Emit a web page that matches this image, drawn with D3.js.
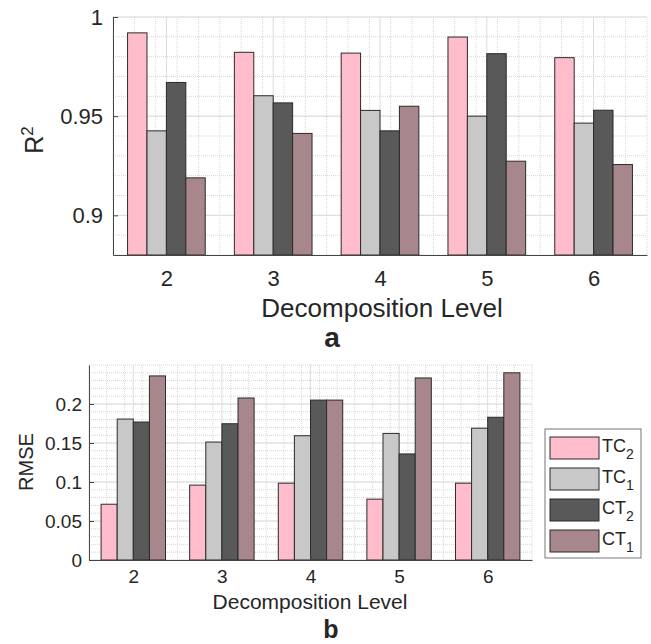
<!DOCTYPE html>
<html lang="en">
<head>
<meta charset="utf-8">
<title>R2 and RMSE by decomposition level</title>
<script src="https://d3js.org/d3.v7.min.js"></script>
<style>
  body { margin: 0; background: #fff; }
  text { font-family: "Liberation Sans", Arial, sans-serif; fill: #262626; }
</style>
</head>
<body>
<script>
// categories and series
var levels = [2, 3, 4, 5, 6];
var seriesNames = [["TC", "2"], ["TC", "1"], ["CT", "2"], ["CT", "1"]];
var colors = ["#ffbdcc", "#c8c8c8", "#595959", "#a8878c"];

// R^2 values (panel a), one array per series
var r2TC2 = [0.9920, 0.9822, 0.9818, 0.9899, 0.9795];
var r2TC1 = [0.9426, 0.9603, 0.9529, 0.9500, 0.9465];
var r2CT2 = [0.9670, 0.9567, 0.9426, 0.9815, 0.9530];
var r2CT1 = [0.9189, 0.9413, 0.9550, 0.9273, 0.9256];

// RMSE values (panel b)
var rmseTC2 = [0.0715, 0.0960, 0.0985, 0.0780, 0.0985];
var rmseTC1 = [0.1807, 0.1512, 0.1593, 0.1623, 0.1690];
var rmseCT2 = [0.1769, 0.1747, 0.2050, 0.1360, 0.1830];
var rmseCT1 = [0.2360, 0.2077, 0.2050, 0.2334, 0.2400];

var r2Ticks = [0.9, 0.95, 1];
var rmseTicks = [0, 0.05, 0.1, 0.15, 0.2];

var w = 651, h = 644;
var svg = d3.select("body").append("svg").attr("width", w).attr("height", h);

function drawPanel(opt) {
  var x = d3.scaleLinear().domain([1.5, 6.5]).range([opt.left, opt.right]);
  var y = d3.scaleLinear().domain(opt.yDomain).range([opt.bottom, opt.top]);
  var g = svg.append("g");

  // minor grid
  var xMinor = d3.range(1.5, 6.5001, 0.2);
  var yMinor = d3.range(opt.yDomain[0], opt.yDomain[1] + 1e-9, opt.minorStep);
  g.selectAll(".vx").data(xMinor).enter().append("line")
    .attr("x1", d => x(d)).attr("x2", d => x(d))
    .attr("y1", opt.top).attr("y2", opt.bottom)
    .attr("stroke", "#d6d6d6").attr("stroke-width", 1).attr("stroke-dasharray", "1,1");
  g.selectAll(".hy").data(yMinor).enter().append("line")
    .attr("x1", opt.left).attr("x2", opt.right)
    .attr("y1", d => y(d)).attr("y2", d => y(d))
    .attr("stroke", "#d6d6d6").attr("stroke-width", 1).attr("stroke-dasharray", "1,1");
  // major grid
  g.selectAll(".mx").data(levels).enter().append("line")
    .attr("x1", d => x(d)).attr("x2", d => x(d))
    .attr("y1", opt.top).attr("y2", opt.bottom)
    .attr("stroke", "#dcdcdc");
  g.selectAll(".my").data(opt.ticks).enter().append("line")
    .attr("x1", opt.left).attr("x2", opt.right)
    .attr("y1", d => y(d)).attr("y2", d => y(d))
    .attr("stroke", "#dcdcdc");

  // bars
  var groupW = 4 / 5.5;
  var barW = groupW / 4;
  opt.series.forEach(function(vals, si) {
    var off = (si - 1.5) * barW;
    g.selectAll(".b" + si).data(vals).enter().append("rect")
      .attr("x", (d, i) => x(levels[i] + off - barW / 2))
      .attr("width", x(barW) - x(0))
      .attr("y", d => y(d))
      .attr("height", d => opt.bottom - y(d))
      .attr("fill", colors[si])
      .attr("stroke", "#2b2b2b").attr("stroke-width", 1);
  });

  // axes
  var yAxis = d3.axisLeft(y).tickValues(opt.ticks).tickSizeInner(-5).tickSizeOuter(0)
    .tickPadding(opt.tickPad).tickFormat(d3.format(""));
  var xAxis = d3.axisBottom(x).tickValues(levels).tickSizeInner(-5).tickSizeOuter(0)
    .tickPadding(opt.tickPadX).tickFormat(d3.format("d"));
  var ya = svg.append("g").attr("transform", "translate(" + opt.left + ",0)").call(yAxis);
  var xa = svg.append("g").attr("transform", "translate(0," + opt.bottom + ")").call(xAxis);
  [ya, xa].forEach(function(a) {
    a.select(".domain").attr("stroke", "#444");
    a.selectAll(".tick line").attr("stroke", "#444");
    a.selectAll("text").style("font-size", opt.tickFont + "px")
      .style("font-family", "'Liberation Sans', Arial, sans-serif").attr("fill", "#262626");
  });

  return { x: x, y: y };
}

// panel a
drawPanel({
  left: 113, right: 647, top: 17, bottom: 255,
  yDomain: [0.88, 1], ticks: r2Ticks, minorStep: 0.01,
  series: [r2TC2, r2TC1, r2CT2, r2CT1],
  tickFont: 22, tickPad: 10, tickPadX: 15
});
svg.append("text").attr("x", 382).attr("y", 317).attr("text-anchor", "middle")
  .style("font-size", "26px").text("Decomposition Level");
svg.append("text").attr("transform", "translate(43,140) rotate(-90)").attr("text-anchor", "middle")
  .style("font-size", "25px")
  .html('R<tspan dy="-10" font-size="17">2</tspan>');
svg.append("text").attr("x", 332).attr("y", 347).attr("text-anchor", "middle")
  .style("font-size", "28px").style("font-weight", "bold").text("a");

// panel b
drawPanel({
  left: 89, right: 532, top: 365, bottom: 560,
  yDomain: [0, 0.25], ticks: rmseTicks, minorStep: 0.01,
  series: [rmseTC2, rmseTC1, rmseCT2, rmseCT1],
  tickFont: 19, tickPad: 7, tickPadX: 10
});
svg.append("text").attr("x", 310).attr("y", 609).attr("text-anchor", "middle")
  .style("font-size", "21px").text("Decomposition Level");
svg.append("text").attr("transform", "translate(33,462) rotate(-90)").attr("text-anchor", "middle")
  .style("font-size", "20px").text("RMSE");
svg.append("text").attr("x", 331).attr("y", 638).attr("text-anchor", "middle")
  .style("font-size", "25px").style("font-weight", "bold").text("b");

// legend
var leg = svg.append("g").attr("transform", "translate(545,429)");
leg.append("rect").attr("width", 96).attr("height", 129)
  .attr("fill", "#fff").attr("stroke", "#777");
seriesNames.forEach(function(n, i) {
  var row = leg.append("g").attr("transform", "translate(5," + (8 + i * 31) + ")");
  row.append("rect").attr("width", 49).attr("height", 22)
    .attr("fill", colors[i]).attr("stroke", "#2b2b2b");
  row.append("text").attr("x", 52).attr("y", 15).style("font-size", "18px")
    .html(n[0] + '<tspan dy="7" font-size="14">' + n[1] + '</tspan>');
});
</script>
</body>
</html>
